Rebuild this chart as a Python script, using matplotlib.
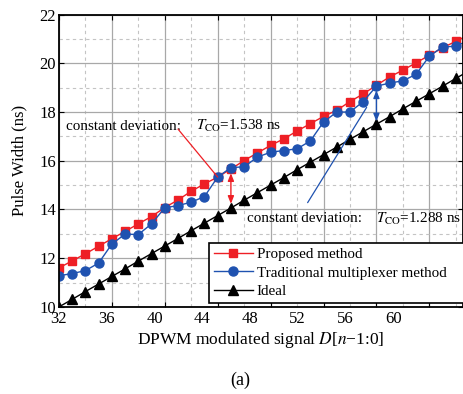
import numpy as np
import matplotlib.pyplot as plt
from matplotlib.ticker import MultipleLocator

plt.rcParams['font.family'] = ['Liberation Serif', 'DejaVu Serif']
plt.rcParams['mathtext.fontset'] = 'stix'

# DPWM code vs. pulse width (ns)
D = list(range(32, 64))
proposed = [11.60, 11.89, 12.18, 12.49, 12.80, 13.10, 13.41, 13.71, 14.08, 14.39,
            14.75, 15.05, 15.33, 15.66, 16.01, 16.32, 16.63, 16.90, 17.22, 17.52,
            17.82, 18.07, 18.43, 18.74, 19.10, 19.44, 19.72, 20.02, 20.33, 20.64,
            20.90, 21.18]
traditional = [11.28, 11.37, 11.49, 11.80, 12.58, 12.99, 12.97, 13.41, 14.07, 14.16,
               14.30, 14.53, 15.33, 15.72, 15.75, 16.15, 16.35, 16.42, 16.49, 16.81,
               17.59, 18.00, 18.00, 18.43, 19.06, 19.19, 19.28, 19.55, 20.29, 20.67,
               20.70, 20.95]
ideal = [10.00, 10.31, 10.63, 10.94, 11.25, 11.56, 11.88, 12.19, 12.50, 12.81,
         13.13, 13.44, 13.75, 14.06, 14.38, 14.69, 15.00, 15.31, 15.63, 15.94,
         16.25, 16.56, 16.88, 17.19, 17.50, 17.81, 18.13, 18.44, 18.75, 19.06,
         19.38, 19.69]
xtick_labels = ['32', '36', '40', '44', '48', '52', '56', '60']

red = '#ee1f25'
blue = '#1f52b0'

fig = plt.figure(figsize=(4.64, 3.94), dpi=100)
ax = fig.add_axes([0.127, 0.221, 0.871, 0.742])

ax.plot(D, proposed, color=red, lw=1.0, marker='s', ms=5.2, label='Proposed method')
ax.plot(D, traditional, color=blue, lw=1.0, marker='o', ms=6.5,
        label='Traditional multiplexer method')
ax.plot(D, ideal, color='black', lw=1.0, marker='^', ms=6.5, label='Ideal')

ax.set_xlim(32, 62.55)
ax.set_ylim(10, 22)

# grid: solid every 4 codes / 2 ns, dashed in between
ax.xaxis.set_major_locator(MultipleLocator(4))
ax.xaxis.set_minor_locator(MultipleLocator(2))
ax.yaxis.set_major_locator(MultipleLocator(2))
ax.yaxis.set_minor_locator(MultipleLocator(1))
ax.grid(which='major', color='#a8a8a8', lw=0.9, ls='-')
ax.grid(which='minor', color='#c4c4c4', lw=0.8, ls=(0, (3, 3)))
ax.set_axisbelow(True)
ax.tick_params(which='both', direction='in', top=True, right=True, labelsize=12,
               length=3.5, width=0.8, pad=2)
ax.tick_params(which='minor', length=0)
ax.set_xticklabels([])
for s in ax.spines.values():
    s.set_linewidth(1.3)

# tick labels as printed (spacing differs from the grid)
sec = ax.secondary_xaxis('bottom')
sec.set_xticks([32 + 3.61 * k for k in range(len(xtick_labels))], labels=xtick_labels)
sec.tick_params(length=0, labelsize=12, pad=3)
sec.spines['bottom'].set_visible(False)

ax.set_ylabel('Pulse Width (ns)', fontsize=12, labelpad=9)
sec.set_xlabel('DPWM modulated signal $D$[$n$\u22121:0]', fontsize=12.5, labelpad=2)
fig.text(0.517, 0.035, '(a)', ha='center', va='center', fontsize=13)

# annotations
ax.text(32.55, 17.42, 'constant deviation:', fontsize=10.9, va='center')
ax.text(42.35, 17.42, r'$T_{\rm CO}$=1.538 ns', fontsize=10.9, va='center')
ax.annotate('', xy=(D[12], proposed[12]), xytext=(41.0, 17.3),
            arrowprops=dict(arrowstyle='-', color=red, lw=0.9, shrinkA=0, shrinkB=0))
ax.annotate('', xy=(D[13], ideal[13]), xytext=(D[13], proposed[13]),
            arrowprops=dict(arrowstyle='<|-|>,head_length=0.45,head_width=0.18',
                            color=red, lw=1.0, shrinkA=3, shrinkB=3))

ax.text(46.2, 13.63, 'constant deviation:', fontsize=10.9, va='center')
ax.text(56.0, 13.63, r'$T_{\rm CO}$=1.288 ns', fontsize=10.9, va='center')
ax.annotate('', xy=(55.26, 18.19), xytext=(50.8, 14.28),
            arrowprops=dict(arrowstyle='-', color=blue, lw=0.9, shrinkA=0, shrinkB=0))
ax.annotate('', xy=(D[24], ideal[24]), xytext=(D[24], traditional[24]),
            arrowprops=dict(arrowstyle='<|-|>,head_length=0.45,head_width=0.18',
                            color=blue, lw=1.0, shrinkA=3, shrinkB=2))

leg = ax.legend(loc='upper left', bbox_to_anchor=(209 / 464, 1 - 303 / 394, 0.6, 60 / 394),
                bbox_transform=fig.transFigure, mode='expand', fontsize=10.9,
                handlelength=2.6, handletextpad=0.25, labelspacing=0.32,
                borderpad=0.3, borderaxespad=0, fancybox=False, framealpha=1)
leg.get_frame().set_edgecolor('black')
leg.get_frame().set_linewidth(1.2)

fig.savefig('out.png', dpi=100)
